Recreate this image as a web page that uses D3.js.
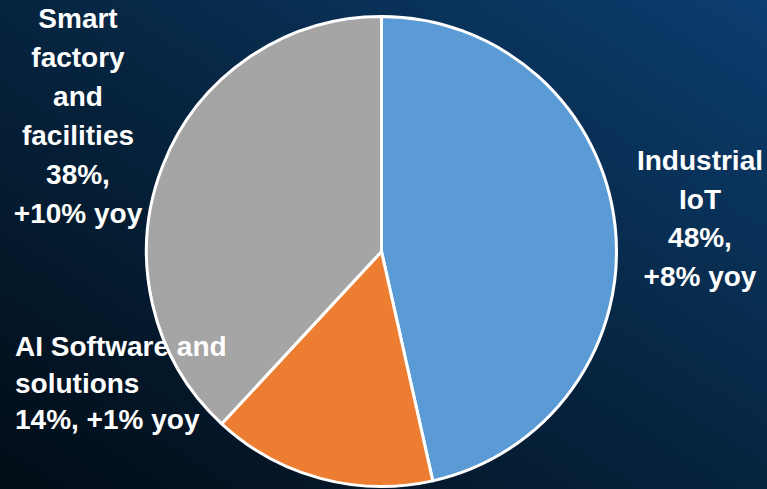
<!DOCTYPE html>
<html>
<head>
<meta charset="utf-8">
<script src="https://cdn.jsdelivr.net/npm/d3@7"></script>
<style>
  html, body { margin: 0; padding: 0; overflow: hidden; }
  svg { display: block; }
  .lbl { font-family: "Liberation Sans Narrow", "Arial Narrow", sans-serif; font-weight: bold; font-size: 28px; fill: #fff; }
</style>
</head>
<body>
<svg id="chart" width="767" height="489"></svg>
<script>
// segments, clockwise from 12 o'clock
const segments = ["Industrial IoT", "AI Software and solutions", "Smart factory and facilities"];
const shares = [46.5, 15.4, 38.1];
const colors = ["#5b9bd5", "#ed7d31", "#a5a5a5"];

// label lines per segment
const labelLines = [
    ["Industrial", "IoT", "48%,", "+8% yoy"],
    ["AI Software and", "solutions", "14%, +1% yoy"],
    ["Smart", "factory", "and", "facilities", "38%,", "+10% yoy"]
];

const width = 767, height = 489;
const svg = d3.select("#chart");

// background gradient
const defs = svg.append("defs");
const grad = defs.append("linearGradient")
    .attr("id", "bg")
    .attr("x1", "100%").attr("y1", "0%")
    .attr("x2", "0%").attr("y2", "100%");
grad.append("stop").attr("offset", "0%").attr("stop-color", "#0c3e70");
grad.append("stop").attr("offset", "50%").attr("stop-color", "#06243f");
grad.append("stop").attr("offset", "100%").attr("stop-color", "#020c16");

svg.append("rect")
    .attr("width", width).attr("height", height)
    .attr("fill", "url(#bg)");

const cx = 381.5, cy = 251.5, r = 235;

const pie = d3.pie().sort(null).value(d => d);
const arc = d3.arc().innerRadius(0).outerRadius(r);

svg.append("g")
    .attr("transform", `translate(${cx},${cy})`)
    .selectAll("path")
    .data(pie(shares))
    .join("path")
    .attr("d", arc)
    .attr("fill", (d, i) => colors[i])
    .attr("stroke", "#fff")
    .attr("stroke-width", 3)
    .attr("stroke-linejoin", "round");

// label blocks: anchor point, alignment, line height
const labelPos = [
    { x: 700, y: 170, anchor: "middle", lh: 38.5 },
    { x: 15, y: 356, anchor: "start", lh: 36.5 },
    { x: 78, y: 28, anchor: "middle", lh: 39 }
];

labelLines.forEach((lines, i) => {
    const p = labelPos[i];
    const t = svg.append("text")
        .attr("class", "lbl")
        .attr("text-anchor", p.anchor);
    lines.forEach((line, j) => {
        t.append("tspan")
            .attr("x", p.x)
            .attr("y", p.y + j * p.lh)
            .text(line);
    });
});
</script>
</body>
</html>
